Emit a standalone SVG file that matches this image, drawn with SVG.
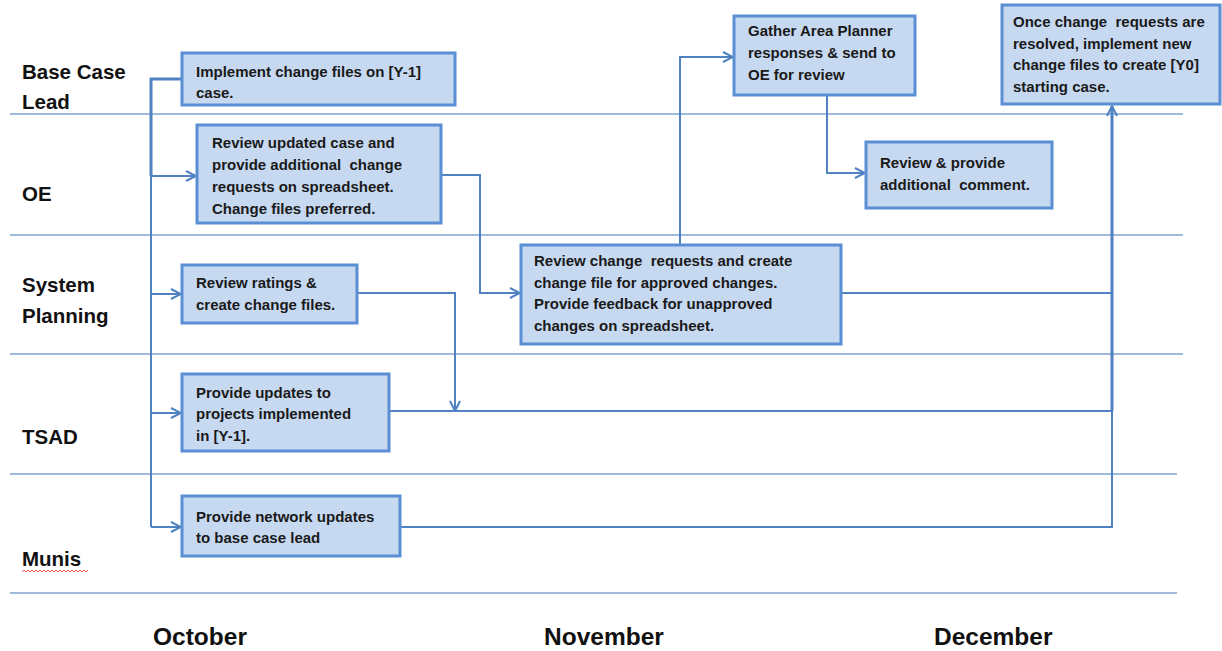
<svg xmlns="http://www.w3.org/2000/svg" width="1222" height="651" viewBox="0 0 1222 651">
<style>
.lane{stroke:#7fa3d1;stroke-width:1.5;fill:none}
.lbl{font-family:"Liberation Sans",Arial,sans-serif;font-weight:bold;font-size:20.5px;fill:#111}
.mon{font-family:"Liberation Sans",Arial,sans-serif;font-weight:bold;font-size:24.5px;fill:#111}
.box{fill:#c6d9f1;stroke:#5b8fd3;stroke-width:3}
.txt{font-family:"Liberation Sans",Arial,sans-serif;font-weight:bold;font-size:15px;fill:#1a1a1a;white-space:pre}
.con{stroke:#5081c0;stroke-width:2;fill:none}
.thick{stroke:#5081c0;stroke-width:3;fill:none}
</style>
<defs>
<marker id="arr" viewBox="0 0 12 12" refX="11" refY="6" markerWidth="12" markerHeight="12" markerUnits="userSpaceOnUse" orient="auto">
<path d="M1,1 L11,6 L1,11" fill="none" stroke="#5081c0" stroke-width="2"/>
</marker>
</defs>
<rect width="1222" height="651" fill="#fff"/>
<g id="lanes">
<line class="lane" x1="10" y1="114" x2="1183" y2="114"/>
<line class="lane" x1="10" y1="235" x2="1183" y2="235"/>
<line class="lane" x1="10" y1="354" x2="1183" y2="354"/>
<line class="lane" x1="10" y1="474" x2="1177" y2="474"/>
<line class="lane" x1="10" y1="593" x2="1177" y2="593"/>
<text class="lbl" x="22" y="79">Base Case</text>
<text class="lbl" x="22" y="109">Lead</text>
<text class="lbl" x="22" y="201">OE</text>
<text class="lbl" x="22" y="292">System</text>
<text class="lbl" x="22" y="323">Planning</text>
<text class="lbl" x="22" y="444">TSAD</text>
<text class="lbl" x="22" y="566">Munis</text>
<path d="M22,572 l2,-2 l2,2 l2,-2 l2,2 l2,-2 l2,2 l2,-2 l2,2 l2,-2 l2,2 l2,-2 l2,2 l2,-2 l2,2 l2,-2 l2,2 l2,-2 l2,2 l2,-2 l2,2 l2,-2 l2,2 l2,-2 l2,2 l2,-2 l2,2 l2,-2 l2,2 l2,-2 l2,2 l2,-2 l2,2 l2,-2" fill="none" stroke="#e03030" stroke-width="0.8"/>
<text class="mon" x="153" y="645">October</text>
<text class="mon" x="544" y="645">November</text>
<text class="mon" x="934" y="645">December</text>
</g>
<g id="connectors">
<path class="thick" d="M182,79 H151 V176"/>
<path class="con" d="M151,176 V527"/>
<path class="con" d="M151,176 H196" marker-end="url(#arr)"/>
<path class="con" d="M151,294 H181" marker-end="url(#arr)"/>
<path class="con" d="M151,413 H181" marker-end="url(#arr)"/>
<path class="con" d="M151,527 H181" marker-end="url(#arr)"/>
<path class="con" d="M441,175 H480 V293 H520" marker-end="url(#arr)"/>
<path class="con" d="M357,293 H455 V411" marker-end="url(#arr)"/>
<path class="con" d="M389,411 H1112"/>
<path class="con" d="M400,527 H1112 V411"/>
<path class="con" d="M841,293 H1112"/>
<path class="thick" d="M1112,411 V106" marker-end="url(#arr)"/>
<path class="con" d="M680,245 V57 H733" marker-end="url(#arr)"/>
<path class="con" d="M827,95 V173 H865" marker-end="url(#arr)"/>
</g>
<g id="n-implement">
<rect class="box" x="182" y="53" width="273" height="52"/>
<text class="txt" x="196" y="77">Implement change files on [Y-1]</text>
<text class="txt" x="196" y="98">case.</text>
</g>
<g id="n-oe-review">
<rect class="box" x="197" y="125" width="244" height="98"/>
<text class="txt" x="212" y="148">Review updated case and</text>
<text class="txt" x="212" y="170">provide additional  change</text>
<text class="txt" x="212" y="192">requests on spreadsheet.</text>
<text class="txt" x="212" y="214">Change files preferred.</text>
</g>
<g id="n-sp-ratings">
<rect class="box" x="182" y="265" width="175" height="58"/>
<text class="txt" x="196" y="288">Review ratings &amp;</text>
<text class="txt" x="196" y="310">create change files.</text>
</g>
<g id="n-tsad">
<rect class="box" x="182" y="374" width="207" height="77"/>
<text class="txt" x="196" y="398">Provide updates to</text>
<text class="txt" x="196" y="419">projects implemented</text>
<text class="txt" x="196" y="441">in [Y-1].</text>
</g>
<g id="n-munis">
<rect class="box" x="182" y="496" width="218" height="60"/>
<text class="txt" x="196" y="522">Provide network updates</text>
<text class="txt" x="196" y="543">to base case lead</text>
</g>
<g id="n-review-cr">
<rect class="box" x="521" y="245" width="320" height="99"/>
<text class="txt" x="534" y="266">Review change  requests and create</text>
<text class="txt" x="534" y="288">change file for approved changes.</text>
<text class="txt" x="534" y="309">Provide feedback for unapproved</text>
<text class="txt" x="534" y="331">changes on spreadsheet.</text>
</g>
<g id="n-gather">
<rect class="box" x="734" y="16" width="181" height="79"/>
<text class="txt" x="748" y="36">Gather Area Planner</text>
<text class="txt" x="748" y="58">responses &amp; send to</text>
<text class="txt" x="748" y="80">OE for review</text>
</g>
<g id="n-oe-comment">
<rect class="box" x="866" y="142" width="186" height="66"/>
<text class="txt" x="880" y="168">Review &amp; provide</text>
<text class="txt" x="880" y="190">additional  comment.</text>
</g>
<g id="n-y0">
<rect class="box" x="1002" y="5" width="218" height="99"/>
<text class="txt" x="1013" y="27">Once change  requests are</text>
<text class="txt" x="1013" y="49">resolved, implement new</text>
<text class="txt" x="1013" y="70">change files to create [Y0]</text>
<text class="txt" x="1013" y="92">starting case.</text>
</g>
</svg>
